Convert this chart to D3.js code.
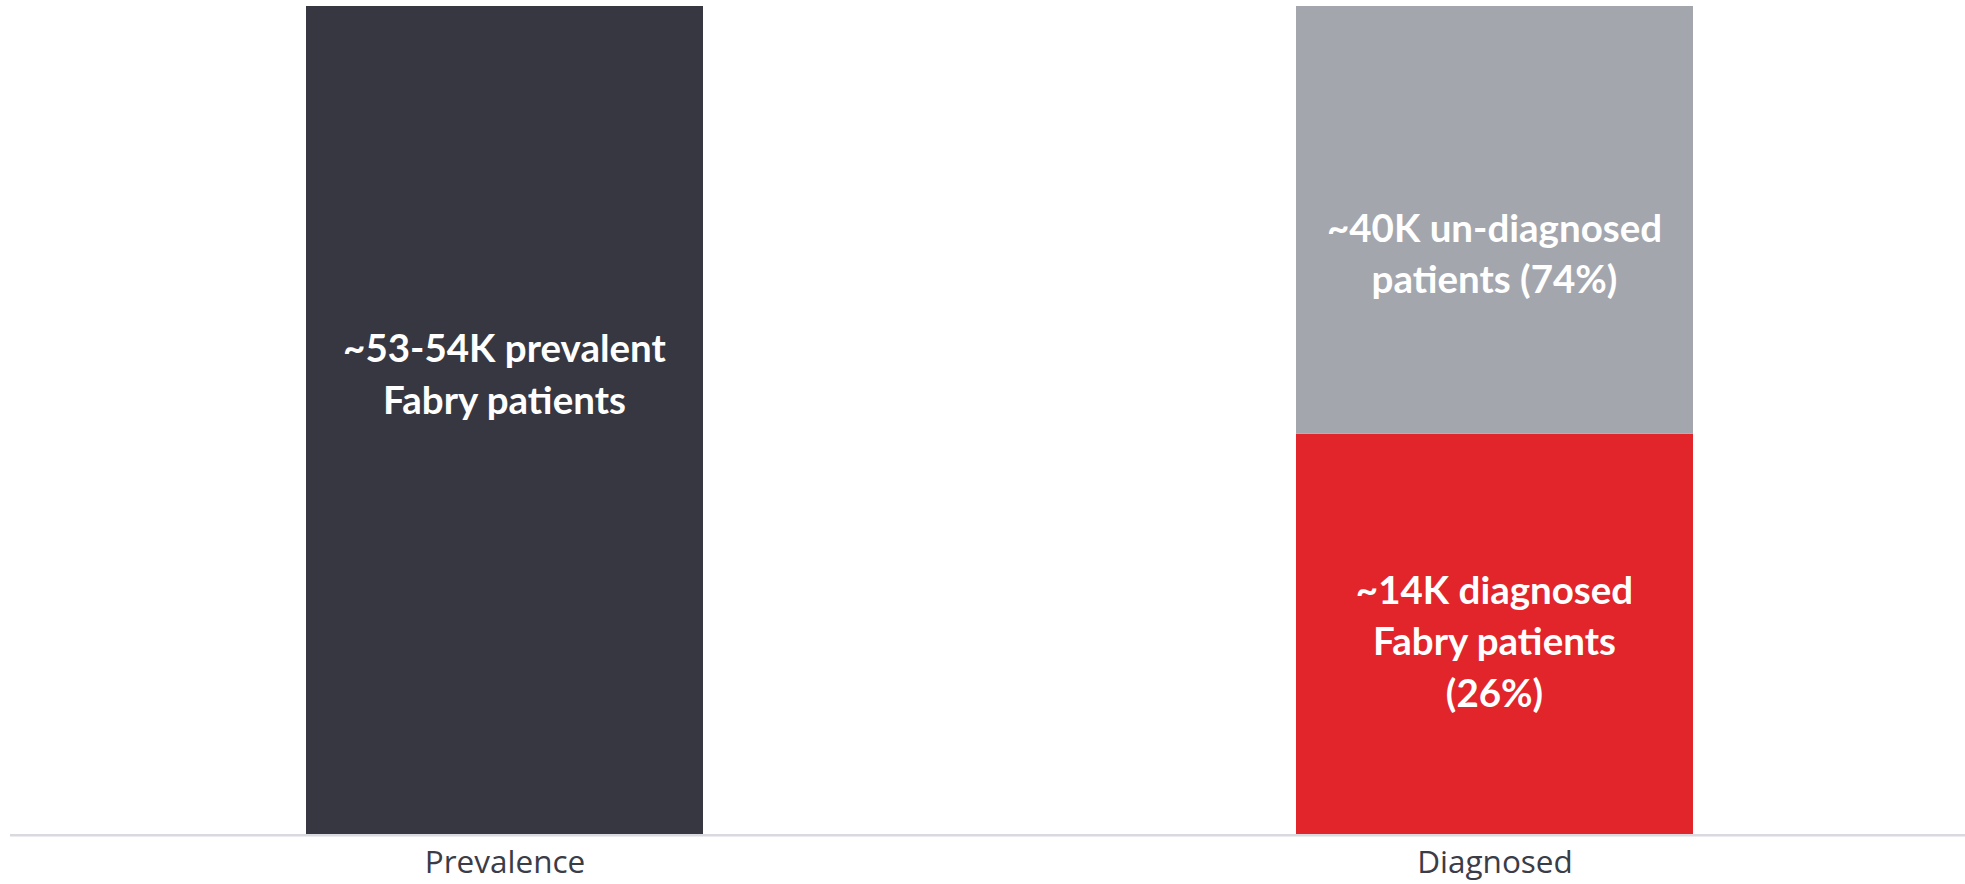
<!DOCTYPE html>
<html>
<head>
<meta charset="utf-8">
<script src="https://cdnjs.cloudflare.com/ajax/libs/d3/7.8.5/d3.min.js"></script>
<style>
  html, body { margin: 0; padding: 0; background: #ffffff; }
  svg { display: block; }
</style>
</head>
<body>
<svg id="chart" width="1965" height="884"></svg>
<script>
// ---- data ----
const categories = ["Prevalence", "Diagnosed"];
const seriesNames = ["Prevalent", "Diagnosed", "Un-diagnosed"];
const prevalentValues = [54, 0];
const diagnosedValues = [0, 26.1];
const undiagnosedValues = [0, 27.9];
const segmentLabels = {
  "Prevalent": ["~53-54K prevalent", "Fabry patients"],
  "Diagnosed": ["~14K diagnosed", "Fabry patients", "(26%)"],
  "Un-diagnosed": ["~40K un-diagnosed", "patients (74%)"]
};
const yMax = 54;

// ---- layout ----
const W = 1965, H = 884;
const baseY = 834, topY = 6;
const barW = 397;
const colors = { "Prevalent": "#363741", "Diagnosed": "#e1252b", "Un-diagnosed": "#a4a6ae" };

const svg = d3.select("#chart");

const x = d3.scalePoint().domain(categories).range([504.5, 1494.5]);
const y = d3.scaleLinear().domain([0, yMax]).range([baseY, topY]);

const rows = categories.map((c, i) => ({
  category: c,
  "Prevalent": prevalentValues[i],
  "Diagnosed": diagnosedValues[i],
  "Un-diagnosed": undiagnosedValues[i]
}));
const stack = d3.stack().keys(seriesNames);
const layers = stack(rows);

const g = svg.append("g");
layers.forEach(layer => {
  g.selectAll(null)
    .data(layer.filter(d => d[1] - d[0] > 0))
    .join("rect")
    .attr("x", d => x(d.data.category) - barW / 2)
    .attr("width", barW)
    .attr("y", d => y(d[1]))
    .attr("height", d => y(d[0]) - y(d[1]))
    .attr("fill", colors[layer.key]);
});

// segment labels
const labelFont = "Lato, 'Open Sans', sans-serif";
const lineH = 51.5;
const labelOffset = { "Prevalent": -45.5, "Diagnosed": 8, "Un-diagnosed": 34 };
layers.forEach(layer => {
  layer.filter(d => d[1] - d[0] > 0).forEach(d => {
    const lines = segmentLabels[layer.key];
    const cx = x(d.data.category);
    const cy = (y(d[0]) + y(d[1])) / 2 + labelOffset[layer.key];
    const t = g.append("text")
      .attr("x", cx)
      .attr("text-anchor", "middle")
      .attr("fill", "#ffffff")
      .attr("font-family", labelFont)
      .attr("font-weight", "bold")
      .attr("font-size", 38.5);
    lines.forEach((ln, i) => {
      t.append("tspan")
        .attr("x", cx)
        .attr("y", cy + (i - (lines.length - 1) / 2) * lineH + 13.5)
        .text(ln);
    });
  });
});

// x axis
const axis = d3.axisBottom(x).tickSize(0).tickPadding(17);
const ax = svg.append("g").attr("transform", `translate(0,${baseY})`).call(axis);
ax.select(".domain").remove();
ax.selectAll("text")
  .attr("font-family", "'Open Sans', sans-serif")
  .attr("font-size", 31.5)
  .attr("fill", "#3a3c47");
svg.append("line")
  .attr("x1", 10).attr("x2", W)
  .attr("y1", baseY + 1.2).attr("y2", baseY + 1.2)
  .attr("stroke", "#d9d9e0")
  .attr("stroke-width", 2.5);
</script>
</body>
</html>
